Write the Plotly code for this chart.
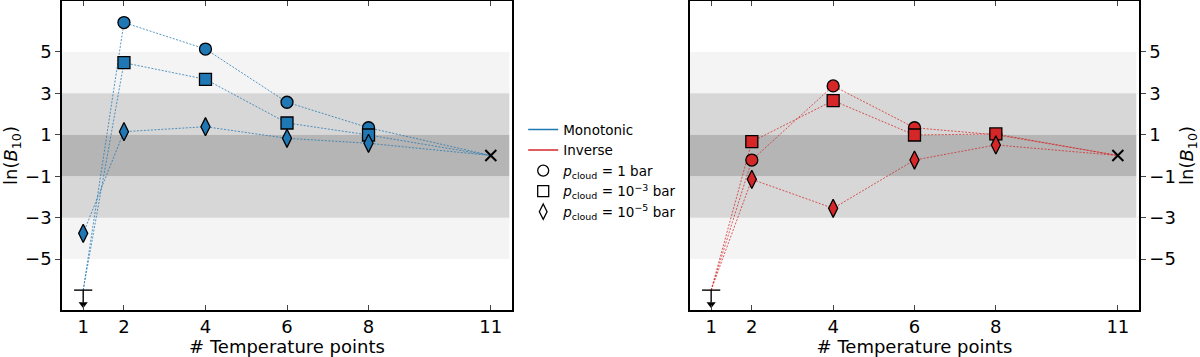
import plotly.graph_objects as go

# data
n_points = [1, 2, 4, 6, 8, 11]

mono_1bar = [-6.5, 6.42, 5.14, 2.57, 1.34, 0.0]
mono_1e3 = [-6.5, 4.48, 3.68, 1.57, 0.99, 0.0]
mono_1e5 = [-3.76, 1.15, 1.39, 0.83, 0.59, 0.0]
mono_uplim = [True, True, False]

inv_1bar = [-6.5, -0.22, 3.36, 1.34, 1.00, 0.0]
inv_1e3 = [-6.5, 0.67, 2.65, 0.99, 1.04, 0.0]
inv_1e5 = [-6.5, -1.15, -2.55, -0.22, 0.51, 0.0]
inv_uplim = [True, True, True]

y_ticks = [-5, -3, -1, 1, 3, 5]
x_ticks = [1, 2, 4, 6, 8, 11]

BLUE = "#1f77b4"
RED = "#d62728"
symbols = ["circle", "square", "diamond-tall"]
sizes = [12, 12, 13]
cloud_labels = [
    "<i>p</i><sub>cloud</sub> = 1 bar",
    "<i>p</i><sub>cloud</sub> = 10<sup>−3</sup> bar",
    "<i>p</i><sub>cloud</sub> = 10<sup>−5</sup> bar",
]

fig = go.Figure()


def add_panel(series, uplims, color, xa, ya):
    # dashed connecting lines
    for vals in series:
        fig.add_trace(go.Scatter(x=n_points, y=vals, mode="lines", xaxis=xa, yaxis=ya,
                                 line=dict(color=color, width=1, dash="2px,1.5px"),
                                 opacity=0.75, showlegend=False, hoverinfo="skip"))
    # markers (skip upper limits and the reference point)
    for vals, lim, sym, sz in zip(series, uplims, symbols, sizes):
        xs, ys = [], []
        for i, (xv, yv) in enumerate(zip(n_points[:-1], vals[:-1])):
            if i == 0 and lim:
                continue
            xs.append(xv)
            ys.append(yv)
        fig.add_trace(go.Scatter(x=xs, y=ys, mode="markers", xaxis=xa, yaxis=ya,
                                 marker=dict(symbol=sym, size=sz, color=color,
                                             line=dict(color="black", width=1.3)),
                                 showlegend=False))
    # upper limit arrow at one temperature point
    lim_vals = [v[0] for v, l in zip(series, uplims) if l]
    if lim_vals:
        y0 = lim_vals[0]
        fig.add_trace(go.Scatter(x=[n_points[0], n_points[0]], y=[y0, y0 - 0.6], mode="lines",
                                 xaxis=xa, yaxis=ya, line=dict(color="black", width=1.4),
                                 showlegend=False, hoverinfo="skip"))
        fig.add_trace(go.Scatter(x=[n_points[0]], y=[y0], mode="markers", xaxis=xa, yaxis=ya,
                                 marker=dict(symbol="line-ew", size=13,
                                             line=dict(color="black", width=1.4)),
                                 showlegend=False, hoverinfo="skip"))
        fig.add_trace(go.Scatter(x=[n_points[0]], y=[y0 - 0.68], mode="markers", xaxis=xa, yaxis=ya,
                                 marker=dict(symbol="triangle-down", size=8, color="black"),
                                 showlegend=False, hoverinfo="skip"))
    # reference model
    fig.add_trace(go.Scatter(x=[n_points[-1]], y=[series[0][-1]], mode="markers", xaxis=xa, yaxis=ya,
                             marker=dict(symbol="x-thin", size=11,
                                         line=dict(color="black", width=2)),
                             showlegend=False, hoverinfo="skip"))


add_panel([mono_1bar, mono_1e3, mono_1e5], mono_uplim, BLUE, "x", "y")
add_panel([inv_1bar, inv_1e3, inv_1e5], inv_uplim, RED, "x2", "y2")

# legend entries
fig.add_trace(go.Scatter(x=[None], y=[None], mode="lines", name="Monotonic",
                         line=dict(color=BLUE, width=1.5)))
fig.add_trace(go.Scatter(x=[None], y=[None], mode="lines", name="Inverse",
                         line=dict(color=RED, width=1.5)))
for sym, lab in zip(symbols, cloud_labels):
    fig.add_trace(go.Scatter(x=[None], y=[None], mode="markers", name=lab,
                             marker=dict(symbol=sym + "-open", size=11, color="black",
                                         line=dict(width=1.3))))

# evidence bands
bands = [(3, 5, "#f4f4f4"), (-5, -3, "#f4f4f4"), (1, 3, "#d7d7d7"), (-3, -1, "#d7d7d7"),
         (-1, 1, "#b5b5b5")]
for xr, yr in [("x domain", "y"), ("x2 domain", "y2")]:
    for lo, hi, col in bands:
        fig.add_shape(type="rect", xref=xr, yref=yr, x0=0, x1=0.994, y0=lo, y1=hi,
                      fillcolor=col, line_width=0, layer="below")

font = dict(family="DejaVu Sans", size=18, color="black")
xcommon = dict(range=[0.48, 11.52], tickvals=x_ticks, ticks="inside", ticklen=5,
               showline=True, linecolor="black", linewidth=1.5, mirror="ticks",
               showgrid=False, zeroline=False, tickfont=font,
               title=dict(text="# Temperature points", font=font, standoff=4))
ycommon = dict(range=[-7.46, 7.46], tickvals=y_ticks, ticks="outside", ticklen=5,
               showline=True, linecolor="black", linewidth=1.5, mirror=True,
               showgrid=False, zeroline=False, tickfont=font,
               tickformat="d",
               title=dict(text="ln(<i>B</i><sub>10</sub>)", font=font, standoff=6))

fig.update_layout(
    width=1200, height=357,
    margin=dict(l=0, r=0, t=0, b=0),
    paper_bgcolor="white", plot_bgcolor="white",
    font=dict(family="DejaVu Sans", color="black"),
    xaxis=dict(domain=[62 / 1200, 512 / 1200], anchor="y", **xcommon),
    yaxis=dict(domain=[1 - 310 / 357, 1 - 1 / 357], anchor="x", **ycommon),
    xaxis2=dict(domain=[690 / 1200, 1139 / 1200], anchor="y2", **xcommon),
    yaxis2=dict(domain=[1 - 310 / 357, 1 - 1 / 357], anchor="x2", side="right", **ycommon),
    legend=dict(x=0.436, y=0.68, xanchor="left", yanchor="top",
                font=dict(family="DejaVu Sans", size=13.5, color="black"),
                bgcolor="rgba(0,0,0,0)", tracegroupgap=0),
)

fig.write_html("out.html", config={"displayModeBar": False},
               post_script="document.body.style.margin='0px';")
